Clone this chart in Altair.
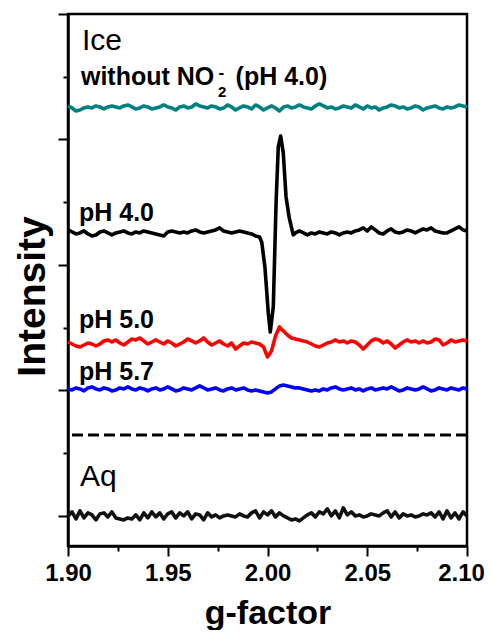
import altair as alt
import pandas as pd

# ---- data (g-factor sampling and read-off intensities, arbitrary units) ----
g_grid = [round(1.900 + 0.002 * i, 3) for i in range(101)]

teal_v = [3.267, 3.251, 3.227, 3.235, 3.251, 3.259, 3.251, 3.267, 3.259, 3.243, 3.259,
          3.267, 3.259, 3.251, 3.267, 3.275, 3.259, 3.243, 3.251, 3.267, 3.259,
          3.243, 3.251, 3.259, 3.275, 3.259, 3.251, 3.235, 3.259, 3.267, 3.251,
          3.259, 3.283, 3.267, 3.259, 3.251, 3.267, 3.259, 3.243, 3.251, 3.275,
          3.259, 3.235, 3.251, 3.267, 3.259, 3.243, 3.275, 3.259, 3.235, 3.251,
          3.267, 3.251, 3.227, 3.259, 3.267, 3.251, 3.259, 3.275, 3.259, 3.251,
          3.243, 3.267, 3.283, 3.267, 3.251, 3.259, 3.243, 3.251, 3.267, 3.259,
          3.251, 3.275, 3.259, 3.243, 3.267, 3.251, 3.259, 3.235, 3.251, 3.259,
          3.275, 3.267, 3.251, 3.259, 3.243, 3.251, 3.267, 3.259, 3.235, 3.251,
          3.259, 3.267, 3.251, 3.243, 3.259, 3.251, 3.259, 3.275, 3.267, 3.259]

# pH 4.0: baseline left of the signal (g 1.900-1.992), the signal, baseline right (g 2.014-2.100)
ph40_left_v = [2.279, 2.263, 2.247, 2.255, 2.271, 2.247, 2.231, 2.239, 2.263, 2.271,
               2.255, 2.239, 2.255, 2.263, 2.271, 2.255, 2.247, 2.263, 2.255, 2.271,
               2.263, 2.255, 2.247, 2.239, 2.231, 2.263, 2.271, 2.263, 2.255, 2.263,
               2.255, 2.271, 2.279, 2.263, 2.255, 2.263, 2.271, 2.279, 2.295, 2.271,
               2.263, 2.255, 2.263, 2.271, 2.263, 2.255, 2.247]
ph40_signal_g = [1.9940, 1.9960, 1.9971, 1.9987, 2.0004, 2.0014, 2.0029, 2.0043,
                 2.0054, 2.0066, 2.0079, 2.0093, 2.0109, 2.0129]
ph40_signal_v = [2.231, 2.223, 2.183, 1.984, 1.617, 1.466, 1.665, 2.494,
                 2.941, 3.028, 2.893, 2.542, 2.375, 2.239]
ph40_right_v = [2.255, 2.271, 2.255, 2.239, 2.255, 2.247, 2.263, 2.255, 2.247, 2.263,
                2.255, 2.239, 2.255, 2.263, 2.255, 2.271, 2.279, 2.295, 2.271, 2.303,
                2.279, 2.255, 2.247, 2.271, 2.287, 2.263, 2.255, 2.263, 2.279, 2.271,
                2.255, 2.271, 2.287, 2.279, 2.295, 2.271, 2.263, 2.255, 2.255, 2.271,
                2.287, 2.303, 2.279, 2.271]

ph50_v = [1.386, 1.370, 1.354, 1.346, 1.362, 1.378, 1.370, 1.354, 1.370, 1.394,
          1.402, 1.386, 1.402, 1.378, 1.362, 1.386, 1.410, 1.402, 1.418, 1.394,
          1.370, 1.386, 1.402, 1.386, 1.370, 1.394, 1.378, 1.354, 1.370, 1.386,
          1.410, 1.394, 1.378, 1.394, 1.418, 1.386, 1.362, 1.378, 1.394, 1.370,
          1.354, 1.378, 1.330, 1.354, 1.378, 1.370, 1.386, 1.378, 1.370, 1.346,
          1.267, 1.315, 1.434, 1.506, 1.474, 1.442, 1.418, 1.410, 1.402, 1.394,
          1.386, 1.370, 1.354, 1.346, 1.362, 1.378, 1.386, 1.402, 1.386, 1.394,
          1.378, 1.394, 1.386, 1.362, 1.330, 1.362, 1.394, 1.410, 1.402, 1.378,
          1.394, 1.370, 1.338, 1.362, 1.386, 1.402, 1.386, 1.394, 1.378, 1.394,
          1.378, 1.386, 1.410, 1.402, 1.362, 1.378, 1.402, 1.386, 1.394, 1.402, 1.394]

ph57_v = [1.012, 1.004, 1.020, 1.012, 0.996, 1.020, 1.028, 1.012, 1.004, 1.020,
          1.012, 0.996, 1.004, 1.020, 1.012, 1.028, 1.012, 1.004, 1.020, 1.012,
          0.996, 1.012, 1.020, 1.004, 1.012, 1.028, 1.012, 0.996, 1.004, 1.020,
          1.012, 1.004, 1.020, 1.036, 1.020, 1.004, 1.012, 1.020, 1.004, 0.996,
          1.012, 1.020, 1.004, 1.012, 1.020, 1.004, 0.996, 1.004, 0.996, 0.988,
          0.980, 0.988, 1.012, 1.036, 1.043, 1.036, 1.028, 1.020, 1.020, 1.012,
          1.004, 0.996, 1.004, 0.996, 1.012, 1.004, 1.020, 1.028, 1.012, 1.004,
          1.012, 1.020, 1.004, 1.012, 0.996, 1.012, 1.020, 1.004, 1.012, 1.020,
          1.012, 1.028, 1.012, 0.996, 1.004, 1.020, 1.012, 1.004, 1.012, 1.028,
          1.012, 0.996, 1.004, 1.020, 1.012, 1.004, 1.020, 1.012, 1.004, 1.020, 1.012]

aq_v = [0.000, 0.032, -0.024, 0.040, -0.016, 0.024, 0.008, -0.032, 0.016, 0.024,
        -0.008, 0.032, -0.016, -0.024, -0.032, -0.016, -0.024, 0.008, -0.032, 0.024,
        -0.016, 0.032, -0.008, 0.024, -0.024, 0.016, 0.032, -0.016, 0.024, 0.000,
        0.032, -0.024, 0.016, 0.008, -0.032, 0.024, -0.008, 0.008, -0.016, 0.000,
        0.008, 0.000, -0.008, 0.016, 0.000, -0.008, 0.024, 0.040, -0.016, 0.032,
        0.008, 0.040, -0.008, 0.024, 0.000, -0.016, -0.032, -0.024, -0.040, -0.016,
        0.008, 0.024, -0.008, 0.032, 0.016, 0.056, 0.000, 0.040, -0.016, 0.064,
        0.008, 0.032, 0.000, 0.008, -0.008, 0.000, 0.016, 0.008, 0.000, 0.024,
        0.040, -0.008, 0.032, -0.016, 0.016, 0.000, 0.008, -0.008, 0.000, 0.016,
        0.008, 0.024, -0.008, 0.032, -0.024, 0.040, -0.016, 0.024, -0.024, 0.032, 0.000]

series_names = ["without NO2 (pH 4.0)", "pH 4.0", "pH 5.0", "pH 5.7", "Aq"]
series_colors = ["#008080", "#000000", "#ff0000", "#0000ff", "#111111"]

separator_v = 0.645  # dashed line between ice and aqueous spectra

x_major = [1.90, 1.95, 2.00, 2.05, 2.10]
x_minor = [1.925, 1.975, 2.025, 2.075]
y_major = [0, 1, 2, 3, 4]
y_minor = [0.5, 1.5, 2.5, 3.5]

bold_labels = ["without NO", "2", "-", "(pH 4.0)", "pH 4.0", "pH 5.0", "pH 5.7"]
bold_g = [1.9065, 1.9752, 1.9754, 1.9840, 1.9055, 1.9055, 1.9055]
bold_v = [3.434, 3.338, 3.490, 3.434, 2.350, 1.498, 1.083]
bold_fs = [25, 15, 17, 25, 25, 25, 25]

plain_labels = ["Ice", "Aq"]
plain_g = [1.9070, 1.9060]
plain_v = [3.713, 0.238]
plain_fs = [30, 30]

# ---- build table ----
rows = []
for g, v in zip(g_grid, teal_v):
    rows.append({"g": g, "v": v, "s": series_names[0]})
ph40_g = g_grid[:47] + ph40_signal_g + g_grid[57:]
ph40_v = ph40_left_v + ph40_signal_v + ph40_right_v
for g, v in zip(ph40_g, ph40_v):
    rows.append({"g": g, "v": v, "s": series_names[1]})
for g, v in zip(g_grid, ph50_v):
    rows.append({"g": g, "v": v, "s": series_names[2]})
for g, v in zip(g_grid, ph57_v):
    rows.append({"g": g, "v": v, "s": series_names[3]})
for g, v in zip(g_grid, aq_v):
    rows.append({"g": g, "v": v, "s": series_names[4]})
df = pd.DataFrame(rows)

FONT = "Liberation Sans"
x_scale = alt.Scale(domain=[1.90, 2.10], nice=False, zero=False)
y_scale = alt.Scale(domain=[-0.24, 4.0], nice=False, zero=False)

lines = alt.Chart(df).mark_line(strokeWidth=3.6, strokeJoin="round").encode(
    x=alt.X("g:Q", scale=x_scale,
            axis=alt.Axis(orient="bottom", values=x_major, format=".2f", tickSize=10,
                          labelFontSize=24, labelFont=FONT, labelFontWeight="bold",
                          labelFlush=False, labelPadding=5, labelColor="black",
                          labelOffset=alt.expr("datum.value > 2.09 ? -6 : 0"),
                          title="g-factor", titleFontSize=34, titleY=77,
                          titleBaseline="alphabetic")),
    y=alt.Y("v:Q", scale=y_scale,
            axis=alt.Axis(orient="left", values=y_major, labels=False, tickSize=10,
                          title="Intensity", titleFontSize=39, titleAngle=270,
                          titleX=-24, titleY=282, titleAlign="center",
                          titleBaseline="alphabetic")),
    color=alt.Color("s:N", scale=alt.Scale(domain=series_names, range=series_colors),
                    legend=None),
    detail="s:N",
)

minor = alt.Chart(df).mark_point(opacity=0).encode(
    x=alt.X("g:Q", scale=x_scale,
            axis=alt.Axis(orient="bottom", values=x_minor, labels=False, domain=False,
                          tickSize=5, title=None)),
    y=alt.Y("v:Q", scale=y_scale,
            axis=alt.Axis(orient="left", values=y_minor, labels=False, domain=False,
                          tickSize=5, title=None)),
)

dash = alt.Chart(pd.DataFrame({"v": [separator_v]})).mark_rule(
    strokeDash=[11, 5], strokeWidth=3, color="black"
).encode(y=alt.Y("v:Q", scale=y_scale, axis=None))

bold_text = alt.Chart(pd.DataFrame({"label": bold_labels, "g": bold_g, "v": bold_v, "fs": bold_fs})).mark_text(
    align="left", baseline="alphabetic", fontWeight="bold", font=FONT, color="black"
).encode(
    x=alt.X("g:Q", scale=x_scale, axis=None),
    y=alt.Y("v:Q", scale=y_scale, axis=None),
    text="label:N",
    size=alt.Size("fs:Q", scale=None),
)

plain_text = alt.Chart(pd.DataFrame({"label": plain_labels, "g": plain_g, "v": plain_v, "fs": plain_fs})).mark_text(
    align="left", baseline="alphabetic", fontWeight="normal", font=FONT, color="black"
).encode(
    x=alt.X("g:Q", scale=x_scale, axis=None),
    y=alt.Y("v:Q", scale=y_scale, axis=None),
    text="label:N",
    size=alt.Size("fs:Q", scale=None),
)

chart = alt.layer(lines, minor, dash, bold_text, plain_text).resolve_axis(
    x="independent", y="independent"
).properties(
    width=399, height=532,
    autosize=alt.AutoSizeParams(type="none"),
    padding={"left": 60, "top": 6, "right": 18, "bottom": 84},
).configure_axis(
    domainColor="black", domainWidth=2.5, tickColor="black", tickWidth=2,
    labelFont=FONT, labelFontSize=24, labelFontWeight="bold", labelColor="black",
    titleFont=FONT, titleFontWeight="bold", titleColor="black",
    grid=False,
).configure_view(stroke="black", strokeWidth=2.5)

chart.save("out.html", embed_options={"renderer": "svg", "actions": False})
